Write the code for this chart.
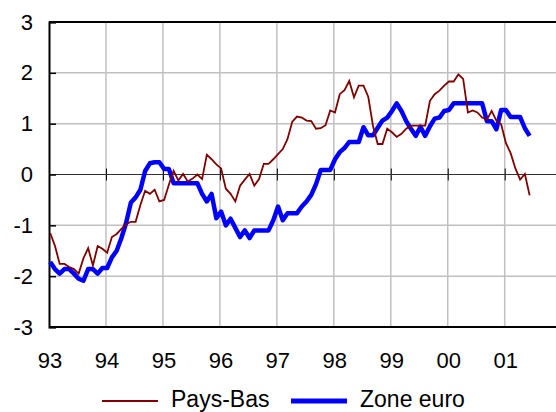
<!DOCTYPE html>
<html>
<head>
<meta charset="utf-8">
<script src="https://cdn.jsdelivr.net/npm/d3@7"></script>
<style>
  body { margin: 0; background: #fff; }
  text { font-family: "Liberation Sans", Arial, sans-serif; fill: #000; }
</style>
</head>
<body>
<div id="chart"></div>
<script>
// monthly data, Jan 1993 - Jun 2001
var startYear = 1993;
var yearLabels = ["93", "94", "95", "96", "97", "98", "99", "00", "01"];
var yTicks = [-3, -2, -1, 0, 1, 2, 3];
var seriesNames = ["Pays-Bas", "Zone euro"];

var paysBas = [
  -1.15, -1.40, -1.76, -1.76, -1.82, -1.86, -1.95, -1.65, -1.45, -1.79, -1.41, -1.46,
  -1.54, -1.23, -1.17, -1.07, -0.98, -0.93, -0.93, -0.60, -0.32, -0.38, -0.30, -0.53,
  -0.50, -0.20, 0.07, -0.12, 0.01, -0.14, -0.08, 0.00, -0.09, 0.39, 0.30, 0.20,
  0.12, -0.28, -0.38, -0.53, -0.22, -0.10, 0.01, -0.22, -0.09, 0.21, 0.21, 0.30,
  0.40, 0.50, 0.70, 1.04, 1.14, 1.12, 1.06, 1.05, 0.90, 0.91, 0.97, 1.26,
  1.22, 1.58, 1.66, 1.84, 1.52, 1.75, 1.75, 1.53, 0.96, 0.60, 0.60, 0.90,
  0.83, 0.74, 0.80, 0.90, 0.96, 0.96, 0.96, 0.96, 1.45, 1.58, 1.65, 1.75,
  1.83, 1.83, 1.97, 1.88, 1.22, 1.26, 1.22, 1.12, 1.08, 1.25, 1.06, 0.99,
  0.62, 0.42, 0.12, -0.10, 0.01, -0.41
];

var zoneEuro = [
  -1.72, -1.86, -1.95, -1.86, -1.86, -1.95, -2.05, -2.09, -1.86, -1.86, -1.95, -1.84,
  -1.84, -1.63, -1.50, -1.25, -0.95, -0.55, -0.45, -0.30, 0.07, 0.22, 0.24, 0.24,
  0.11, 0.11, -0.17, -0.17, -0.17, -0.17, -0.17, -0.17, -0.38, -0.53, -0.38, -0.86,
  -0.73, -1.00, -0.87, -1.05, -1.23, -1.10, -1.25, -1.10, -1.10, -1.10, -1.10, -0.90,
  -0.63, -0.90, -0.76, -0.76, -0.76, -0.63, -0.53, -0.40, -0.19, 0.09, 0.09, 0.09,
  0.30, 0.44, 0.52, 0.64, 0.64, 0.64, 0.93, 0.77, 0.77, 0.92, 1.06, 1.12,
  1.25, 1.40, 1.25, 1.05, 0.90, 0.76, 0.94, 0.76, 0.95, 1.10, 1.12, 1.25,
  1.27, 1.40, 1.40, 1.40, 1.40, 1.40, 1.40, 1.40, 1.05, 1.05, 0.89, 1.27,
  1.27, 1.13, 1.13, 1.13, 0.91, 0.76
];

var width = 556;
var height = 412;
var plotLeft = 49;
var plotRight = 560;
var plotTop = 22;
var plotBottom = 327;

var svg = d3
  .select("#chart")
  .append("svg")
  .attr("width", width)
  .attr("height", height);

var xScale = d3
  .scaleLinear()
  .domain([1993, 2001])
  .range([plotLeft, 504.7]);

var yScale = d3
  .scaleLinear()
  .domain([-3, 3])
  .range([plotBottom, plotTop]);

function monthX(d, i) {
  return xScale(startYear + (i + 0.25) / 12);
}

// grid
var years = d3.range(1994, 2002);
svg
  .append("g")
  .selectAll("line")
  .data(years)
  .enter()
  .append("line")
  .attr("x1", function(d) { return xScale(d); })
  .attr("x2", function(d) { return xScale(d); })
  .attr("y1", plotTop)
  .attr("y2", plotBottom)
  .attr("stroke", "#c0c0c0")
  .attr("stroke-width", 1.5);

svg
  .append("g")
  .selectAll("line")
  .data([-2, -1, 1, 2])
  .enter()
  .append("line")
  .attr("x1", plotLeft)
  .attr("x2", plotRight)
  .attr("y1", function(d) { return yScale(d); })
  .attr("y2", function(d) { return yScale(d); })
  .attr("stroke", "#c0c0c0")
  .attr("stroke-width", 1.5);

// zero line with year ticks
var xAxis = d3
  .axisBottom(xScale)
  .tickValues(years)
  .tickSizeOuter(0)
  .tickFormat("");
var xAxisG = svg
  .append("g")
  .attr("transform", "translate(0," + yScale(0) + ")")
  .call(xAxis);
xAxisG.select(".domain").remove();
xAxisG.selectAll(".tick line")
  .attr("y1", -6)
  .attr("y2", 6)
  .attr("stroke", "#000");
svg
  .append("line")
  .attr("x1", plotLeft)
  .attr("x2", plotRight)
  .attr("y1", yScale(0))
  .attr("y2", yScale(0))
  .attr("stroke", "#333")
  .attr("stroke-width", 1);

// frame
svg.append("line")
  .attr("x1", plotLeft).attr("x2", plotRight)
  .attr("y1", plotTop).attr("y2", plotTop)
  .attr("stroke", "#000").attr("stroke-width", 2);
svg.append("line")
  .attr("x1", plotLeft).attr("x2", plotRight)
  .attr("y1", plotBottom).attr("y2", plotBottom)
  .attr("stroke", "#000").attr("stroke-width", 2);

// y axis
var yAxis = d3
  .axisRight(yScale)
  .tickValues(yTicks)
  .tickSize(7)
  .tickFormat(function(d) { return String(d); });
var yAxisG = svg
  .append("g")
  .attr("transform", "translate(" + plotLeft + ",0)")
  .call(yAxis);
yAxisG.select(".domain").attr("stroke", "#000").attr("stroke-width", 2);
yAxisG.selectAll(".tick line").attr("stroke", "#000").attr("stroke-width", 1.5);
yAxisG
  .selectAll(".tick text")
  .attr("x", -16)
  .attr("dy", "0.32em")
  .attr("text-anchor", "end")
  .style("font-size", "22px")
  .style("font-family", "Liberation Sans, Arial, sans-serif")
  .attr("fill", "#000");

// x labels
svg
  .append("g")
  .selectAll("text")
  .data(yearLabels)
  .enter()
  .append("text")
  .attr("x", function(d, i) { return xScale(startYear + i) + 1; })
  .attr("y", 368)
  .attr("text-anchor", "middle")
  .style("font-size", "22px")
  .text(function(d) { return d; });

// series
var line = d3
  .line()
  .x(monthX)
  .y(function(d) { return yScale(d); });

svg
  .append("path")
  .datum(zoneEuro)
  .attr("d", line)
  .attr("fill", "none")
  .attr("stroke", "#0000ff")
  .attr("stroke-width", 4.5)
  .attr("stroke-linejoin", "round");

svg
  .append("path")
  .datum(paysBas)
  .attr("d", line)
  .attr("fill", "none")
  .attr("stroke", "#800000")
  .attr("stroke-width", 1.8);

// legend
var legendItems = [
  { name: seriesNames[0], color: "#800000", w: 2, x: 102 },
  { name: seriesNames[1], color: "#0000ff", w: 5, x: 291 }
];
var legend = svg
  .append("g")
  .selectAll("g")
  .data(legendItems)
  .enter()
  .append("g")
  .attr("transform", function(d) { return "translate(" + d.x + ",401)"; });
legend
  .append("line")
  .attr("x1", 0)
  .attr("x2", 56)
  .attr("stroke", function(d) { return d.color; })
  .attr("stroke-width", function(d) { return d.w; });
legend
  .append("text")
  .attr("x", 69)
  .attr("y", 6)
  .style("font-size", "23px")
  .text(function(d) { return d.name; });
</script>
</body>
</html>
